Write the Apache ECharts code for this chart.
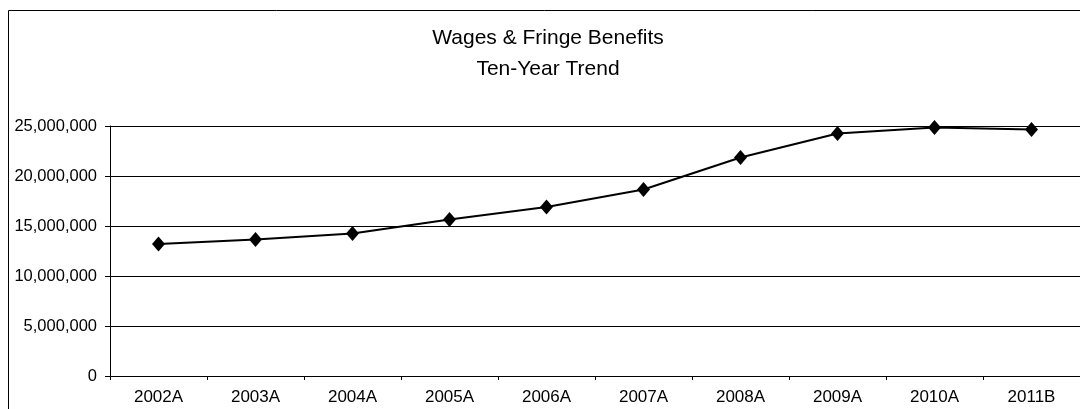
<!DOCTYPE html>
<html>
<head>
<meta charset="utf-8">
<style>
  html, body { margin: 0; padding: 0; background: #fff; }
  #chart { width: 1080px; height: 409px; }
</style>
<script src="https://cdn.jsdelivr.net/npm/echarts@6/dist/echarts.min.js"></script>
</head>
<body>
<div id="chart"></div>
<script>
// Fiscal years (A = actual, B = budget)
const years = ['2002A', '2003A', '2004A', '2005A', '2006A', '2007A', '2008A', '2009A', '2010A', '2011B'];
// Wages & fringe benefits, dollars
const wages = [13200000, 13650000, 14250000, 15650000, 16900000, 18650000, 21850000, 24250000, 24850000, 24650000];
const titleLines = ['Wages & Fringe Benefits', 'Ten-Year Trend'];

const FONT = '"Liberation Sans", Arial, sans-serif';

const chart = echarts.init(document.getElementById('chart'), null, { renderer: 'canvas' });

chart.setOption({
  animation: false,
  backgroundColor: '#ffffff',
  title: {
    text: titleLines.join('\n'),
    left: 548,
    top: 23,
    padding: 0,
    textAlign: 'center',
    textStyle: { fontFamily: FONT, fontSize: 21, fontWeight: 'normal', color: '#000', lineHeight: 31 }
  },
  graphic: [
    {
      type: 'rect',
      silent: true,
      shape: { x: 8.5, y: 10.5, width: 1200, height: 500 },
      style: { fill: null, stroke: '#000', lineWidth: 1 }
    }
  ],
  grid: { left: 110, top: 126, width: 979, height: 250 },
  xAxis: {
    type: 'category',
    data: years,
    boundaryGap: true,
    axisLine: { lineStyle: { color: '#000', width: 1 } },
    axisTick: { show: true, length: 4, inside: false, lineStyle: { color: '#000' } },
    axisLabel: { fontFamily: FONT, fontSize: 17, color: '#000', margin: 13 },
    splitLine: { show: false }
  },
  yAxis: {
    type: 'value',
    min: 0,
    max: 25000000,
    interval: 5000000,
    axisLine: { show: true, lineStyle: { color: '#000', width: 1 } },
    axisTick: { show: true, length: 5, lineStyle: { color: '#000' } },
    axisLabel: {
      fontFamily: FONT, fontSize: 16.5, color: '#000', margin: 13,
      formatter: v => v.toLocaleString('en-US')
    },
    splitLine: { show: true, lineStyle: { color: '#000', width: 1 } }
  },
  series: [
    {
      type: 'line',
      data: wages,
      symbol: 'diamond',
      symbolSize: [13, 15],
      lineStyle: { color: '#000', width: 2 },
      itemStyle: { color: '#000' }
    }
  ]
});
</script>
</body>
</html>
